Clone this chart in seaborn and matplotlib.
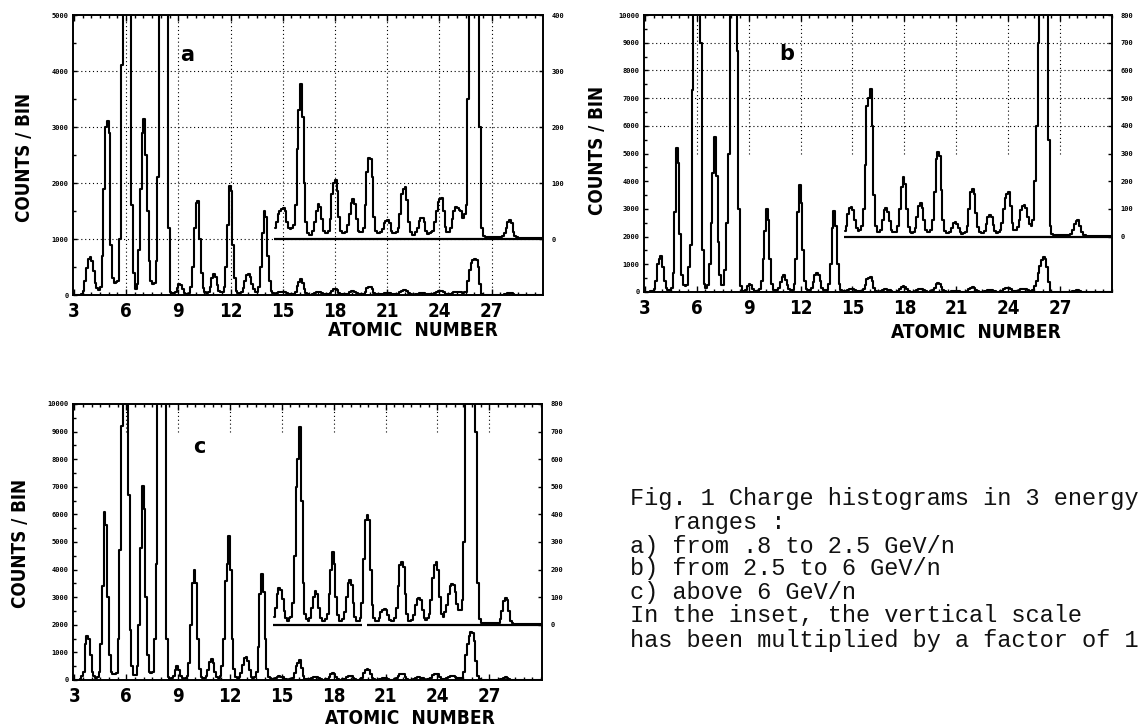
import numpy as np
import pandas as pd
import matplotlib
matplotlib.use("Agg")
import matplotlib.pyplot as plt
import seaborn as sns
from matplotlib import font_manager
from matplotlib.font_manager import FontProperties
from matplotlib.ticker import MultipleLocator, FixedLocator

# ---------------- data (counts per 0.1-charge bin; each row = one Z, bins Z-0.5 ... Z+0.4) -------------
counts_a = [
    0, 0, 0, 0, 0, 0, 0, 0, 0, 20,                                  # Z=3
    80, 250, 480, 640, 670, 600, 420, 220, 120, 90,                 # Z=4
    150, 700, 1900, 3000, 3100, 2900, 900, 300, 220, 230,           # Z=5
    250, 1000, 4100, 9000, 13000, 13000, 10000, 6000, 1600, 400,    # Z=6
    110, 200, 800, 1900, 2900, 3150, 2500, 1500, 600, 250,          # Z=7
    200, 220, 600, 2100, 7000, 11000, 10000, 8000, 5500, 1200,      # Z=8
    60, 30, 30, 60, 120, 200, 180, 100, 40, 20,                     # Z=9
    20, 40, 150, 500, 1200, 1650, 1680, 1000, 400, 120,             # Z=10
    50, 40, 60, 150, 300, 370, 330, 180, 80, 50,                    # Z=11
    60, 150, 500, 1250, 1950, 1850, 900, 300, 80, 40,               # Z=12
    40, 60, 120, 250, 350, 370, 330, 200, 100, 50,                  # Z=13
    60, 150, 500, 1100, 1500, 1400, 700, 250, 80, 30,               # Z=14
    20, 30, 45, 50, 54, 56, 50, 30, 20, 18,                         # Z=15
    19, 25, 60, 160, 230, 277, 218, 100, 30, 10,                    # Z=16
    7, 8, 15, 30, 50, 62, 58, 35, 15, 10,                           # Z=17
    10, 15, 35, 80, 100, 106, 85, 40, 15, 10,                       # Z=18
    10, 12, 25, 45, 65, 71, 62, 35, 15, 12,                         # Z=19
    12, 20, 60, 120, 144, 142, 110, 40, 15, 10,                     # Z=20
    10, 12, 18, 28, 32, 34, 28, 15, 10, 10,                         # Z=21
    12, 20, 45, 80, 90, 92, 70, 30, 12, 8,                          # Z=22
    8, 12, 20, 32, 37, 38, 30, 15, 9, 10,                           # Z=23
    12, 15, 30, 50, 66, 72, 73, 50, 22, 12,                         # Z=24
    12, 20, 35, 50, 58, 56, 52, 50, 38, 45,                         # Z=25
    60, 250, 450, 570, 630, 645, 620, 500, 200, 20,                 # Z=26
    5, 4, 3, 3, 3, 3, 3, 3, 3, 3,                                   # Z=27
    3, 5, 10, 20, 30, 34, 28, 12, 5, 3,                             # Z=28
    2, 2, 2, 2, 2, 2, 2, 2, 2, 2,                                   # Z=29
    2, 2, 2, 2, 2, 2, 2, 2, 2, 2,                                   # Z=30
]

counts_b = [
    0, 0, 0, 0, 0, 0, 0, 0, 20, 50,                                 # Z=3
    100, 400, 1000, 1200, 1300, 900, 400, 150, 80, 80,              # Z=4
    150, 700, 2900, 5200, 4650, 2100, 600, 250, 200, 250,           # Z=5
    900, 1700, 7300, 12000, 16000, 16000, 14000, 9000, 1500, 300,   # Z=6
    150, 250, 1000, 2500, 4300, 5600, 4200, 1800, 600, 250,         # Z=7
    250, 800, 2500, 5000, 11000, 15000, 15000, 12000, 8700, 3000,   # Z=8
    200, 40, 40, 80, 200, 300, 250, 100, 40, 30,                    # Z=9
    40, 100, 400, 1200, 2200, 3000, 2600, 1200, 300, 80,            # Z=10
    50, 60, 150, 350, 550, 600, 450, 250, 100, 60,                  # Z=11
    60, 300, 1200, 2900, 3880, 3200, 1500, 400, 120, 60,            # Z=12
    60, 150, 350, 600, 690, 620, 380, 150, 70, 60,                  # Z=13
    80, 300, 1000, 2300, 2930, 2400, 1000, 300, 80, 40,             # Z=14
    20, 40, 80, 105, 108, 95, 60, 30, 20, 25,                       # Z=15
    40, 100, 260, 470, 500, 532, 400, 150, 40, 18,                  # Z=16
    15, 25, 60, 95, 102, 90, 55, 25, 15, 15,                        # Z=17
    18, 40, 100, 180, 214, 190, 100, 35, 15, 12,                    # Z=18
    15, 30, 70, 110, 120, 105, 60, 25, 15, 15,                      # Z=19
    25, 60, 160, 280, 307, 290, 170, 60, 20, 12,                    # Z=20
    12, 18, 32, 48, 52, 46, 30, 15, 10, 12,                         # Z=21
    18, 40, 100, 160, 171, 155, 85, 35, 15, 12,                     # Z=22
    12, 22, 45, 72, 78, 70, 42, 20, 14, 18,                         # Z=23
    25, 50, 100, 140, 155, 162, 110, 50, 25, 25,                    # Z=24
    35, 60, 95, 110, 114, 105, 70, 45, 40, 60,                      # Z=25
    200, 400, 700, 950, 1150, 1265, 1200, 900, 350, 40,             # Z=26
    8, 5, 4, 4, 5, 5, 4, 4, 4, 5,                                   # Z=27
    5, 10, 25, 45, 55, 59, 40, 15, 6, 4,                            # Z=28
    3, 3, 3, 3, 3, 3, 3, 3, 3, 3,                                   # Z=29
    3, 3, 3, 3, 3, 3, 3, 3, 3, 3,                                   # Z=30
]

counts_c = [
    0, 0, 0, 0, 0, 0, 0, 0, 50, 150,                                # Z=3
    300, 1300, 1610, 1500, 900, 300, 150, 80, 100, 300,             # Z=4
    1300, 3400, 6100, 5600, 3000, 900, 300, 200, 200, 250,          # Z=5
    1500, 4700, 9200, 15000, 16000, 12000, 6700, 1800, 500, 180,    # Z=6
    180, 500, 2000, 4800, 7030, 6200, 3000, 900, 300, 250,          # Z=7
    300, 1500, 4200, 10500, 15000, 16000, 14000, 10200, 1500, 100,  # Z=8
    50, 60, 150, 350, 496, 350, 150, 60, 50, 80,                    # Z=9
    150, 600, 2000, 3500, 4000, 3500, 1500, 400, 120, 80,           # Z=10
    80, 150, 350, 650, 775, 600, 300, 120, 80, 150,                 # Z=11
    500, 1500, 3600, 4200, 5200, 4000, 1500, 400, 120, 80,          # Z=12
    100, 250, 550, 800, 823, 700, 350, 120, 80, 100,                # Z=13
    300, 1200, 3100, 3850, 3200, 1500, 400, 120, 60, 40,            # Z=14
    30, 60, 110, 133, 125, 95, 50, 25, 15, 25,                      # Z=15
    30, 80, 250, 500, 600, 717, 450, 150, 40, 20,                   # Z=16
    15, 25, 60, 100, 121, 110, 60, 25, 15, 15,                      # Z=17
    20, 40, 110, 200, 264, 220, 100, 35, 15, 15,                    # Z=18
    20, 45, 100, 150, 161, 145, 80, 30, 15, 15,                     # Z=19
    25, 80, 240, 380, 398, 380, 200, 70, 25, 15,                    # Z=20
    15, 25, 45, 55, 58, 55, 35, 18, 12, 15,                         # Z=21
    25, 60, 140, 215, 227, 210, 110, 40, 15, 15,                    # Z=22
    18, 35, 70, 92, 97, 90, 55, 25, 18, 25,                         # Z=23
    40, 90, 170, 215, 227, 200, 100, 40, 30, 45,                    # Z=24
    70, 110, 140, 149, 145, 120, 75, 55, 55, 90,                    # Z=25
    300, 900, 1300, 1600, 1755, 1700, 1400, 700, 150, 20,           # Z=26
    8, 6, 6, 6, 6, 5, 5, 5, 5, 6,                                   # Z=27
    8, 20, 50, 85, 97, 90, 50, 15, 6, 4,                            # Z=28
    3, 3, 3, 3, 3, 3, 3, 3, 3, 3,                                   # Z=29
    3, 3, 3, 3, 3, 3, 3, 3, 3, 3,                                   # Z=30
]

x_ticks = [3, 6, 9, 12, 15, 18, 21, 24, 27]
panel_labels = ["a", "b", "c"]
y_label = "COUNTS / BIN"
x_label = "ATOMIC  NUMBER"
caption_lines = [
    "Fig. 1 Charge histograms in 3 energy",
    "   ranges :",
    "a) from .8 to 2.5 GeV/n",
    "b) from 2.5 to 6 GeV/n",
    "c) above 6 GeV/n",
    "In the inset, the vertical scale",
    "has been multiplied by a factor of 1",
]
INSET_FACTOR = 10

# bin centres for 28 rows of 10 bins of width 0.1 starting at Z = 2.5
centers = np.round(np.arange(len(counts_a)) * 0.1 + 2.55, 2)

# ---------------- style ----------------
sns.set_theme(style="white")
for k in ("text.color", "axes.labelcolor", "xtick.color", "ytick.color", "axes.edgecolor"):
    plt.rcParams[k] = "black"


def find_condensed_bold():
    best = None
    for f in font_manager.fontManager.ttflist:
        name = (f.fname or "").lower()
        if ("narrow" in name or "condensed" in name) and (f.weight in ("bold", 700) or "bold" in name) \
                and "italic" not in name and "oblique" not in name:
            best = f.fname
            if "liberation" in name or "dejavu" in name:
                return best
    return best


COND = find_condensed_bold()
BOLD_FP = FontProperties(fname=COND) if COND else FontProperties(family="DejaVu Sans", weight="bold")
mono_names = {f.name for f in font_manager.fontManager.ttflist}
MONO = "Liberation Mono" if "Liberation Mono" in mono_names else "DejaVu Sans Mono"
plt.rcParams["font.family"] = ["DejaVu Sans"]

W, H = 1139, 727
fig = plt.figure(figsize=(W / 100, H / 100), dpi=100)
fig.patch.set_facecolor("white")
renderer = fig.canvas.get_renderer()


def fit(t, target_px, axis="w"):
    bb = t.get_window_extent(renderer=renderer)
    cur = bb.width if axis == "w" else bb.height
    if cur > 0:
        t.set_fontsize(t.get_fontsize() * target_px / cur)


def rect(l, t, r, b):
    return [l / W, 1 - b / H, (r - l) / W, (b - t) / H]


def panel(box, counts, xlim, ymax, base, rmax, grid_mode, label, label_xy,
          ylab_xy, xlab_xy, base_gap=None):
    ax = fig.add_axes(rect(*box))
    df = pd.DataFrame({"Z": centers, "counts": counts})
    sns.lineplot(data=df, x="Z", y="counts", drawstyle="steps-mid", color="black",
                 lw=1.5, estimator=None, ax=ax, zorder=3)
    ins = df[df["Z"] >= 14.55].copy()
    ins["inset"] = base + INSET_FACTOR * ins["counts"]
    sns.lineplot(data=ins, x="Z", y="inset", drawstyle="steps-mid", color="black",
                 lw=1.5, estimator=None, ax=ax, zorder=3)
    if base_gap is None:
        ax.hlines(base, 14.5, xlim[1], color="black", lw=1.6, zorder=3)
    else:
        ax.hlines(base, 14.5, base_gap[0], color="black", lw=1.6, zorder=3)
        ax.hlines(base, base_gap[1], xlim[1], color="black", lw=1.6, zorder=3)

    ax.set_xlim(*xlim)
    ax.set_ylim(0, ymax)
    ax.set_xlabel("")
    ax.set_ylabel("")

    gx = x_ticks[1:]
    step = 1000
    dots = (0, (1, 2.5))
    if grid_mode == "full":
        ax.vlines(gx, 0, ymax, colors="black", linestyles=dots, lw=0.8, zorder=1)
        ax.hlines(np.arange(step, ymax, step), xlim[0], xlim[1], colors="black",
                  linestyles=dots, lw=0.8, zorder=1)
    elif grid_mode == "upper":
        ax.vlines(gx, 0.5 * ymax, ymax, colors="black", linestyles=dots, lw=0.8, zorder=1)
        ax.hlines(np.arange(6000, ymax, 1000), xlim[0], xlim[1], colors="black",
                  linestyles=dots, lw=0.8, zorder=1)
    else:
        ax.vlines(gx, 0.9 * ymax, ymax, colors="black", linestyles=dots, lw=0.8, zorder=1)

    ax.xaxis.set_major_locator(FixedLocator(x_ticks))
    ax.xaxis.set_minor_locator(MultipleLocator(0.5))
    ax.yaxis.set_minor_locator(MultipleLocator(500))
    ax.tick_params(axis="x", which="major", direction="in", length=4, width=1,
                   top=True, bottom=True, pad=5)
    ax.tick_params(axis="x", which="minor", direction="in", length=2.5, width=1,
                   top=True, bottom=True)
    ax.tick_params(axis="y", which="major", direction="in", length=3, width=1,
                   left=True, labelsize=5, pad=3)
    ax.tick_params(axis="y", which="minor", direction="in", length=2, width=1, left=True)
    ax.set_xticks(x_ticks)
    ax.set_xticklabels([str(v) for v in x_ticks], fontproperties=BOLD_FP)
    for t in ax.get_xticklabels():
        t.set_fontsize(13.5)
    ax.set_yticks(np.arange(0, ymax + 1, step))
    ax.set_yticklabels([str(v) for v in np.arange(0, ymax + 1, step)],
                       fontweight="bold", family="DejaVu Sans Mono")
    for s in ax.spines.values():
        s.set_color("black")
        s.set_linewidth(1.4)

    ax2 = ax.twinx()
    ax2.set_ylim(-base / INSET_FACTOR, (ymax - base) / INSET_FACTOR)
    ax2.set_yticks(np.arange(0, rmax + 1, 100))
    ax2.set_yticklabels([str(v) for v in np.arange(0, rmax + 1, 100)],
                        fontweight="bold", family="DejaVu Sans Mono")
    ax2.tick_params(axis="y", direction="in", length=3, width=1, labelsize=5, pad=6)
    ax2.grid(False)
    for s in ax2.spines.values():
        s.set_visible(False)

    fig.text(label_xy[0] / W, 1 - label_xy[1] / H, label, fontsize=15,
             fontweight="bold", family="DejaVu Sans", ha="center", va="center")
    t1 = fig.text(ylab_xy[0] / W, 1 - ylab_xy[1] / H, y_label, rotation=90,
                  fontproperties=BOLD_FP, ha="center", va="center")
    t1.set_fontsize(14)
    fit(t1, 130, "h")
    t2 = fig.text(xlab_xy[0] / W, 1 - xlab_xy[1] / H, x_label,
                  fontproperties=BOLD_FP, ha="center", va="center")
    t2.set_fontsize(13)
    fit(t2, 169, "w")
    return ax


panel((73, 15, 543, 295), counts_a, (2.95, 29.95), 5000, 1000, 400, "full",
      panel_labels[0], (187, 55), (25, 157), (413, 331))
panel((644, 15, 1112, 292), counts_b, (2.95, 30.0), 10000, 2000, 800, "upper",
      panel_labels[1], (787, 54), (597, 150), (976, 333))
panel((73, 404, 542, 680), counts_c, (2.92, 30.05), 10000, 2000, 800, "top",
      panel_labels[2], (199, 447), (21, 543), (410, 718), base_gap=(19.65, 19.9))

line_y = [498, 522, 546, 569, 592, 616, 640]
for txt, yy in zip(caption_lines, line_y):
    fig.text(630 / W, 1 - yy / H, txt, family=MONO, fontsize=17, ha="left",
             va="center", color="#111111")

fig.savefig("out.png", dpi=100, facecolor="white")
